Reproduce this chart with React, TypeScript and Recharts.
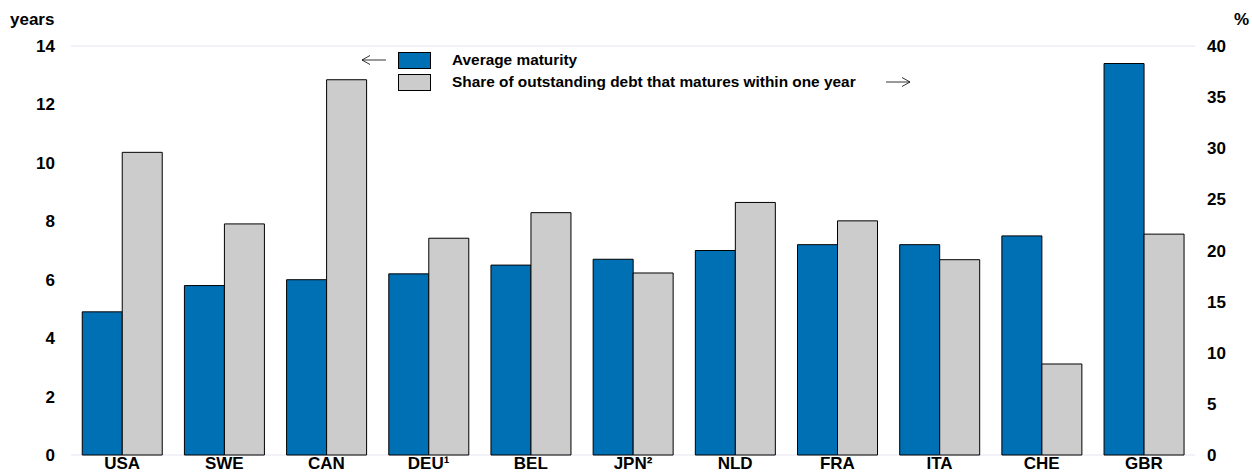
import { BarChart, Bar, XAxis, YAxis, CartesianGrid } from 'recharts';

const countries = ['USA', 'SWE', 'CAN', 'DEU¹', 'BEL', 'JPN²', 'NLD', 'FRA', 'ITA', 'CHE', 'GBR'];
const avgMaturity = [4.9, 5.8, 6.0, 6.2, 6.5, 6.7, 7.0, 7.2, 7.2, 7.5, 13.4];
const shortShare = [29.6, 22.6, 36.7, 21.2, 23.7, 17.8, 24.7, 22.9, 19.1, 8.9, 21.6];
const leftTicks = [0, 2, 4, 6, 8, 10, 12, 14];
const rightTicks = [0, 5, 10, 15, 20, 25, 30, 35, 40];

const data = countries.map((c, i) => ({ country: c, maturity: avgMaturity[i], share: shortShare[i] }));

const FONT = '"Liberation Sans", Arial, sans-serif';
const BLUE = '#0070B5';
const GREY = '#CCCCCC';
const tickStyle = { fontFamily: FONT, fontSize: 17, fontWeight: 700, fill: '#000' };

// thin arrow used next to the legend entries (which axis each series reads against)
function Arrow({ dir }: { dir: 'left' | 'right' }) {
  const d = dir === 'left' ? 'M1 7 L25 7 M1 7 L9 2.5 M1 7 L9 11.5' : 'M0 7 L24 7 M24 7 L16 2.5 M24 7 L16 11.5';
  return (
    <svg width={25} height={14} style={{ display: 'block' }}>
      <path d={d} stroke="#000" strokeWidth={0.8} fill="none" />
    </svg>
  );
}

export default function App() {
  return (
    <div style={{ position: 'absolute', left: 0, top: 0, width: 1252, height: 473, background: '#fff', fontFamily: FONT }}>
      <BarChart
        width={1252}
        height={473}
        data={data}
        margin={{ top: 46, right: 0, bottom: 0, left: 0 }}
        barCategoryGap="11%"
        barGap={0}
      >
        <CartesianGrid vertical={false} stroke="#E4E4F0" />
        <XAxis
          dataKey="country"
          axisLine={false}
          tickLine={false}
          height={18}
          tickSize={2}
          tickMargin={0}
          interval={0}
          tick={tickStyle}
        />
        <YAxis
          yAxisId="left"
          domain={[0, 14]}
          ticks={leftTicks}
          width={71}
          axisLine={false}
          tickLine={false}
          tickMargin={10}
          tick={tickStyle}
        />
        <YAxis
          yAxisId="right"
          orientation="right"
          domain={[0, 40]}
          ticks={rightTicks}
          width={57}
          axisLine={false}
          tickLine={false}
          tickMargin={6}
          tick={tickStyle}
        />
        <Bar yAxisId="left" dataKey="maturity" fill={BLUE} stroke="#000" strokeWidth={1} isAnimationActive={false} />
        <Bar yAxisId="right" dataKey="share" fill={GREY} stroke="#000" strokeWidth={1} isAnimationActive={false} />
      </BarChart>

      <div style={{ position: 'absolute', left: 10, top: 10, fontSize: 17, fontWeight: 700 }}>years</div>
      <div style={{ position: 'absolute', left: 1234, top: 10, fontSize: 17, fontWeight: 700 }}>%</div>

      {/* legend */}
      <div style={{ position: 'absolute', left: 361, top: 49, fontSize: 15.4, fontWeight: 700, lineHeight: '22px' }}>
        <div style={{ display: 'flex', alignItems: 'center', height: 22 }}>
          <Arrow dir="left" />
          <span style={{ width: 31, height: 15, background: BLUE, border: '1px solid #000', marginLeft: 12 }} />
          <span style={{ marginLeft: 21 }}>Average maturity</span>
        </div>
        <div style={{ display: 'flex', alignItems: 'center', height: 22 }}>
          <span style={{ width: 25 }} />
          <span style={{ width: 31, height: 15, background: GREY, border: '1px solid #000', marginLeft: 12 }} />
          <span style={{ marginLeft: 21 }}>Share of outstanding debt that matures within one year</span>
          <span style={{ marginLeft: 30 }}>
            <Arrow dir="right" />
          </span>
        </div>
      </div>
    </div>
  );
}
